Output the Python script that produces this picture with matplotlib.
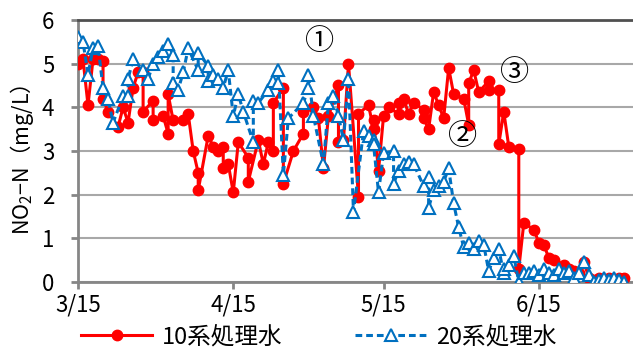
import numpy as np
import matplotlib
matplotlib.use("Agg")
import matplotlib.pyplot as plt

plt.rcParams['font.family'] = ['Noto Sans CJK JP', 'DejaVu Sans']
plt.rcParams['mathtext.default'] = 'regular'

# days elapsed since 3/15
red_day = [0, 1, 2, 3, 4, 5, 5, 6, 8, 9, 10, 11, 12, 13, 13, 15, 15, 17, 18, 18,
           19, 21, 22, 23, 24, 24, 26, 27, 28, 29, 29, 30, 31, 32, 34, 34, 36, 37, 38, 39,
           39, 41, 41, 43, 45, 45, 47, 48, 49, 50, 52, 52, 53, 54, 56, 56, 58, 59, 59, 60,
           61, 62, 64, 64, 65, 66, 67, 69, 69, 70, 71, 72, 73, 74, 75, 77, 78, 78, 79, 80,
           82, 82, 84, 84, 85, 86, 88, 88, 89, 91, 92, 93, 94, 95, 97, 98, 99, 100, 101, 102,
           103, 104, 105, 106, 107, 108, 109]
red_val = [5.0, 5.1, 4.05, 5.1, 5.1, 5.05, 4.2, 3.9, 3.55, 4.0, 3.65, 4.45, 4.8, 4.8, 3.9, 4.15, 3.7, 3.8, 3.4, 4.3,
           3.7, 3.7, 3.85, 3.0, 2.5, 2.1, 3.35, 3.1, 3.0, 3.1, 2.6, 2.7, 2.05, 3.2, 2.85, 2.3, 3.25, 2.7, 3.2, 3.0,
           4.1, 4.45, 2.25, 3.0, 3.4, 3.9, 4.0, 3.75, 2.6, 3.8, 4.5, 3.2, 3.25, 5.0, 1.95, 3.85, 4.05, 3.5, 3.7, 2.55,
           3.8, 4.0, 3.85, 4.1, 4.2, 3.85, 4.1, 3.95, 3.75, 3.5, 4.35, 4.05, 3.75, 4.9, 4.3, 4.2, 3.6, 4.55, 4.85, 4.35,
           4.6, 4.4, 4.4, 3.15, 3.9, 3.1, 3.05, 0.3, 1.35, 1.2, 0.9, 0.85, 0.55, 0.5, 0.4, 0.3, 0.25, 0.2, 0.45, 0.1,
           0.05, 0.1, 0.05, 0.1, 0.05, 0.1, 0.1]

blue_day = [0, 1, 2, 3, 4, 5, 6, 7, 9, 10, 10, 11, 13, 14, 15, 16, 17, 18, 19, 19,
            20, 21, 22, 24, 24, 26, 26, 27, 28, 29, 30, 31, 32, 33, 35, 35, 36, 38, 39, 40,
            40, 41, 42, 45, 46, 46, 47, 49, 50, 51, 52, 53, 54, 55, 57, 58, 59, 59, 60, 61,
            63, 63, 64, 65, 66, 67, 69, 70, 70, 71, 72, 73, 74, 75, 76, 77, 78, 79, 80, 81,
            82, 83, 84, 85, 85, 86, 87, 88, 89, 90, 91, 92, 93, 94, 95, 96, 97, 98, 99, 100,
            101, 102, 103, 104, 105, 106, 107, 108, 109]
blue_val = [5.6, 5.5, 4.75, 5.35, 5.4, 4.45, 4.2, 3.65, 4.25, 4.25, 4.65, 5.1, 4.85, 4.65, 5.0, 5.15, 5.3, 5.45, 5.2, 4.55,
            4.4, 4.8, 5.35, 4.85, 5.25, 4.95, 4.6, 4.75, 4.65, 4.45, 4.85, 3.8, 4.3, 3.9, 3.2, 4.15, 4.1, 4.4, 4.6, 4.55,
            4.85, 2.45, 3.75, 4.1, 4.45, 4.75, 3.8, 2.7, 4.1, 4.25, 3.8, 3.25, 4.65, 1.6, 3.45, 3.35, 3.25, 3.15, 2.05, 2.95,
            3.0, 2.25, 2.55, 2.7, 2.75, 2.7, 2.2, 2.4, 1.7, 2.1, 2.2, 2.3, 2.6, 1.8, 1.25, 0.8, 0.9, 0.75, 0.95, 0.85,
            0.25, 0.55, 0.75, 0.2, 0.3, 0.4, 0.6, 0.0, 0.2, 0.2, 0.25, 0.15, 0.3, 0.2, 0.15, 0.3, 0.2, 0.25, 0.1, 0.2,
            0.45, 0.15, 0.0, 0.05, 0.1, 0.05, 0.1, 0.05, 0.0]

tick_days = [0, 31, 61, 92]
tick_labels = ["3/15", "4/15", "5/15", "6/15"]

notes = ["①", "②", "③"]
note_day = [48.2, 76.8, 87.2]
note_val = [5.5, 3.32, 4.79]

fig = plt.figure(figsize=(6.33, 3.47), dpi=100)
ax = fig.add_axes([0.1232, 0.1873, 0.8768, 0.7551])

ax.plot(red_day, red_val, color="#FF0000", lw=2.2, marker="o", ms=7.5,
        mfc="#FF0000", mec="#FF0000", label="10系処理水", zorder=3)
ax.plot(blue_day, blue_val, color="#0070C0", lw=2.2, ls=(0, (2.2, 1.3)), marker="^", ms=8.5,
        mfc="white", mec="#0070C0", mew=1.5, label="20系処理水", zorder=4)

ax.set_xlim(0, 110.8)
ax.set_ylim(0, 6)
ax.set_yticks(range(7))
ax.set_xticks(tick_days)
ax.set_xticklabels(tick_labels)
ax.grid(axis="y", color="#a8a8a8", lw=1.5)
ax.set_axisbelow(True)

for s in ["left", "bottom"]:
    ax.spines[s].set_color("#868686")
    ax.spines[s].set_linewidth(2)
ax.spines["top"].set_color("#505050")
ax.spines["top"].set_linewidth(2)
ax.spines["right"].set_visible(False)

ax.tick_params(axis="y", length=5, width=2, color="#868686", pad=12, labelsize=16)
ax.tick_params(axis="x", length=5, width=2, color="#868686", pad=3, labelsize=16)

fig.text(22 / 633, 1 - 160 / 347, "NO$_2$−N（mg/L）", rotation=90,
         ha="center", va="center", fontsize=15.5)

for t, d, v in zip(notes, note_day, note_val):
    ax.text(d, v, t, ha="center", va="center", fontsize=21,
            family=["DejaVu Serif", "Noto Sans CJK JP"])

fig.legend(loc="lower left", bbox_to_anchor=(0.095, -0.065), ncol=2, frameon=False,
           fontsize=17, handlelength=3.0, handletextpad=0.4, columnspacing=3.1,
           numpoints=1)

fig.savefig("out.png", dpi=100)
